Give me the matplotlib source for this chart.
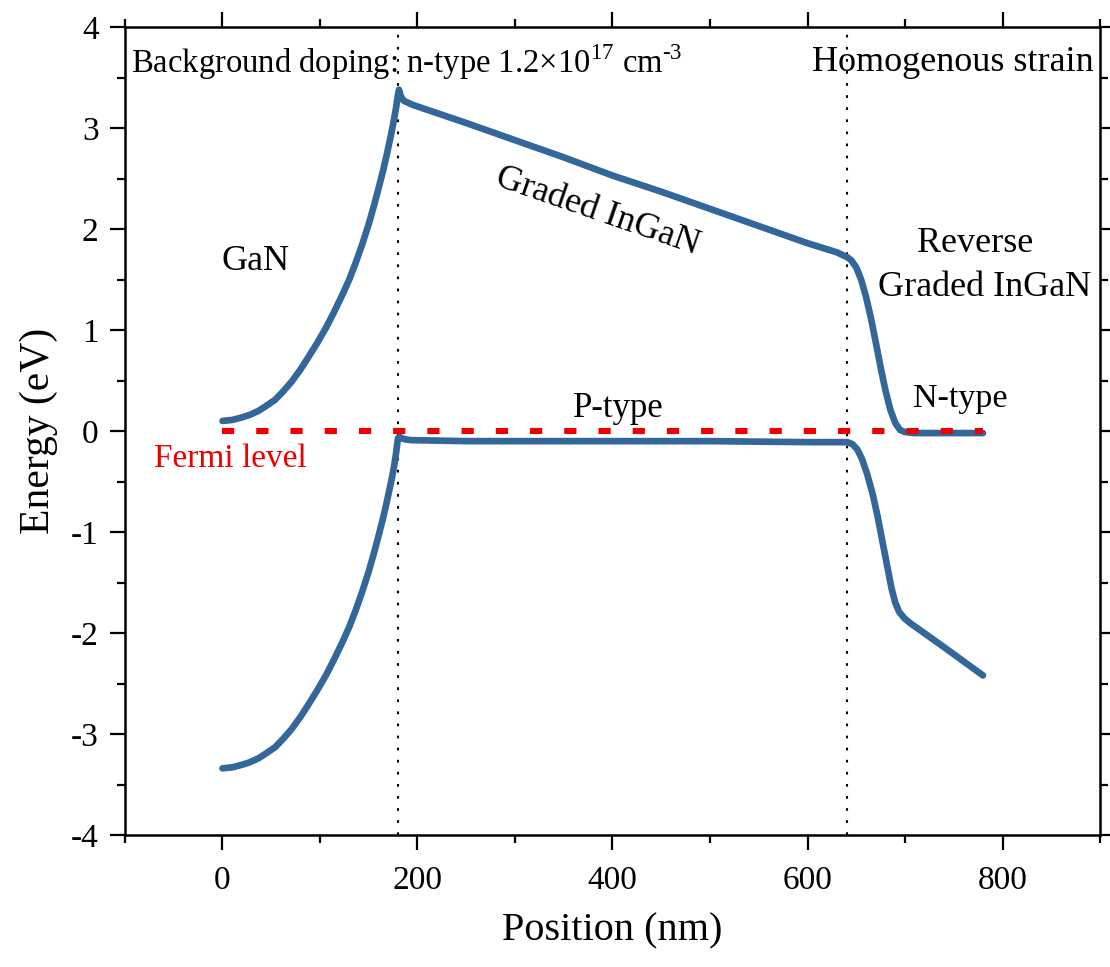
import matplotlib
matplotlib.use("Agg")
import matplotlib.pyplot as plt
from matplotlib.ticker import MultipleLocator

plt.rcParams['font.family'] = ['Liberation Serif', 'DejaVu Serif']
plt.rcParams['mathtext.fontset'] = 'custom'
plt.rcParams['mathtext.rm'] = 'Liberation Serif'

# Conduction band (upper curve)
cb_x = [0, 10, 20, 28, 37, 45, 54, 62, 71, 80, 88, 97, 106, 114, 123, 130, 136, 143, 150, 155,
        160, 165, 169, 173, 176, 178, 180, 181, 183, 186, 195, 250, 300, 350, 400, 450, 500,
        550, 600, 620, 630, 641, 645, 650, 655, 660, 665, 670, 675, 680, 685, 690, 695, 700,
        709, 740, 780]
cb_y = [0.10, 0.11, 0.135, 0.16, 0.20, 0.25, 0.31, 0.39, 0.49, 0.61, 0.73, 0.87, 1.02, 1.17,
        1.35, 1.50, 1.65, 1.84, 2.05, 2.22, 2.40, 2.59, 2.76, 2.94, 3.09, 3.20, 3.33, 3.38,
        3.31, 3.27, 3.23, 3.05, 2.88, 2.71, 2.53, 2.37, 2.20, 2.03, 1.86, 1.80, 1.77, 1.72,
        1.69, 1.62, 1.50, 1.33, 1.12, 0.88, 0.63, 0.40, 0.21, 0.08, 0.01, -0.01, -0.02,
        -0.02, -0.02]

# Valence band (lower curve)
vb_x = [0, 10, 20, 28, 37, 45, 54, 62, 71, 80, 88, 97, 106, 114, 123, 130, 136, 143, 150, 155,
        160, 165, 169, 173, 176, 178, 180, 182, 186, 193, 250, 300, 400, 500, 600, 630, 641,
        646, 651, 656, 661, 667, 672, 677, 682, 686, 690, 694, 699, 705, 716, 740, 760, 780]
vb_y = [-3.34, -3.33, -3.305, -3.28, -3.24, -3.19, -3.13, -3.05, -2.95, -2.83, -2.71, -2.57,
        -2.42, -2.27, -2.09, -1.94, -1.79, -1.60, -1.39, -1.22, -1.04, -0.85, -0.68, -0.50,
        -0.35, -0.22, -0.07, -0.06, -0.08, -0.09, -0.10, -0.10, -0.10, -0.10, -0.11, -0.11,
        -0.11, -0.13, -0.18, -0.28, -0.42, -0.63, -0.85, -1.10, -1.35, -1.55, -1.70, -1.79,
        -1.85, -1.90, -1.975, -2.14, -2.28, -2.42]

# Fermi level
ef_x = [0, 780]
ef_y = [0, 0]

# Layer boundaries
boundaries = [180, 640]

xticks = [0, 200, 400, 600, 800]
yticks = [-4, -3, -2, -1, 0, 1, 2, 3, 4]

blue = '#336699'
red = '#EE0000'

fig = plt.figure(figsize=(11.10, 9.67), dpi=100)
ax = fig.add_axes([0.1126, 0.1365, 0.8784, 0.8355])

ax.plot(ef_x, ef_y, color=red, lw=4.4, dashes=(2.0, 3.6), dash_capstyle='butt', zorder=3)
ax.plot(cb_x, cb_y, color=blue, lw=4.8, solid_capstyle='round', solid_joinstyle='round', zorder=2)
ax.plot(vb_x, vb_y, color=blue, lw=4.8, solid_capstyle='round', solid_joinstyle='round', zorder=2)
for b in boundaries:
    ax.axvline(b, color='black', lw=1.5, linestyle=(0, (1.3, 4.5)), zorder=1)

ax.set_xlim(-100, 900)
ax.set_ylim(-4, 4)
ax.set_xticks(xticks)
ax.set_yticks(yticks)
ax.set_yticklabels([str(t) for t in yticks])
ax.xaxis.set_minor_locator(MultipleLocator(100))
ax.yaxis.set_minor_locator(MultipleLocator(0.5))
ax.tick_params(which='both', direction='out', top=True, right=True, width=1.6)
ax.tick_params(which='major', length=11, labelsize=24, pad=8)
ax.tick_params(which='minor', length=5.5)
ax.tick_params(axis='x', which='major', pad=11)
for s in ax.spines.values():
    s.set_linewidth(1.8)

ax.set_xlabel('Position (nm)', fontsize=29, labelpad=12)
ax.set_ylabel('Energy (eV)', fontsize=30, labelpad=9)

ax.text(-94, 3.65, r'Background doping: n-type 1.2$\times$10$^{17}$ cm$^{\text{-3}}$',
        fontsize=23.5, ha='left', va='center')
ax.text(893, 3.65, 'Homogenous strain', fontsize=26, ha='right', va='center')
ax.text(34, 1.68, 'GaN', fontsize=26, ha='center', va='center')
ax.text(385, 2.17, 'Graded InGaN', fontsize=26, ha='center', va='center', rotation=-19)
ax.text(772, 1.86, 'Reverse', fontsize=26, ha='center', va='center')
ax.text(782, 1.42, 'Graded InGaN', fontsize=26, ha='center', va='center')
ax.text(406, 0.22, 'P-type', fontsize=25, ha='center', va='center')
ax.text(757, 0.32, 'N-type', fontsize=24.5, ha='center', va='center')
ax.text(8, -0.27, 'Fermi level', fontsize=24, ha='center', va='center', color=red)

fig.savefig('out.png', dpi=100)
